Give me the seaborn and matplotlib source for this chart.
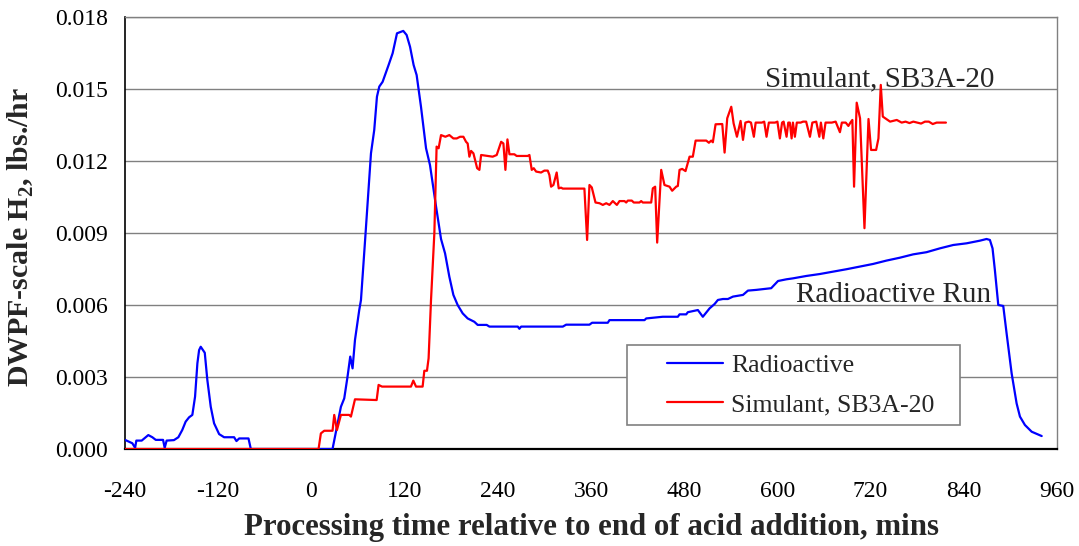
import numpy as np
import pandas as pd
import matplotlib
matplotlib.use("Agg")
import matplotlib.pyplot as plt
from matplotlib.patches import Rectangle
from matplotlib.ticker import FormatStrFormatter
import seaborn as sns

# Radioactive run: time (min) relative to end of acid addition, H2 (lbs/hr)
rad_t = [-240, -230.6, -227, -225.4, -218.5, -210, -204.8, -200.4, -191, -188.9,
         -186.4, -177, -171.3, -166.3, -161.9, -157.5, -153.3, -149.8, -146.8, -144.6,
         -142.5, -137.3, -134, -129.6, -125.3, -118.8, -112.4, -99.5, -96.5, -93,
         -81, -78, 27.2, 31.6, 38, 42.3, 46.5, 50, 53, 56.1,
         61.6, 63.8, 69.3, 76.7, 80.9, 84.4, 87.4, 91.7, 99.4, 104.6,
         110.2, 118.3, 122.6, 127, 131.6, 135.5, 141.1, 147.6, 152.7, 160.5,
         166.9, 172.1, 177.6, 182.8, 188.3, 194.8, 201.2, 209.8, 214.1, 225.7,
         229.2, 265.7, 267.8, 270, 323.7, 328, 358, 361.4, 381.6, 383.8,
         428.9, 431.1, 452.4, 471.8, 474, 482.6, 484.7, 497.6, 504, 512.7,
         519.1, 523.4, 529.9, 536.3, 542.8, 555.7, 562.1, 572.9, 592, 600.8,
         611.5, 620, 637.3, 654.5, 671.7, 688.9, 706, 723.2, 740.4, 757.6,
         774.8, 792, 809.2, 826.4, 843.6, 860.7, 869.3, 873.6, 877, 880,
         884.4, 890.8, 895.1, 901.6, 908, 912.3, 918.7, 927.4, 940.3]
rad_h2 = [0.00038, 0.00024, 0.00005, 0.00035, 0.00035, 0.00058, 0.00049, 0.00038, 0.00038, 0.00005,
          0.00035, 0.00037, 0.00049, 0.00079, 0.00114, 0.00132, 0.00142, 0.00218, 0.00357, 0.00412,
          0.00426, 0.00401, 0.00288, 0.00176, 0.00107, 0.00062, 0.00049, 0.00049, 0.00033, 0.00044,
          0.00044, 0.0, 0.0, 0.00072, 0.00176, 0.00211, 0.00301, 0.00385, 0.00336, 0.00454,
          0.00579, 0.0062, 0.00878, 0.01232, 0.01329, 0.01468, 0.0151, 0.0153, 0.016, 0.01649,
          0.01732, 0.01742, 0.01725, 0.01676, 0.016, 0.01558, 0.01426, 0.01253, 0.01183, 0.0101,
          0.00875, 0.00815, 0.00718, 0.00642, 0.006, 0.00565, 0.00544, 0.0053, 0.00517, 0.00517,
          0.0051, 0.0051, 0.00501, 0.0051, 0.0051, 0.00518, 0.00518, 0.00526, 0.00526, 0.00537,
          0.00537, 0.00544, 0.00551, 0.00551, 0.00561, 0.00561, 0.0057, 0.00579, 0.00551, 0.00586,
          0.00604, 0.00621, 0.00625, 0.00625, 0.00635, 0.00642, 0.0066, 0.00663, 0.0067, 0.007,
          0.00707, 0.00711, 0.00721, 0.00729, 0.00739, 0.00749, 0.0076, 0.00771, 0.00785, 0.00797,
          0.00811, 0.0082, 0.00836, 0.0085, 0.00857, 0.00868, 0.00875, 0.00871, 0.00836, 0.00746,
          0.006, 0.00596, 0.00482, 0.00315, 0.0019, 0.00135, 0.001, 0.00072, 0.00054]

# Simulant run SB3A-20
sim_t = [-240, 9.2, 12.2, 16.5, 27.2, 29.4, 32.9, 38, 48.7, 50.9,
         56.1, 84, 86.5, 90.9, 128.2, 131.2, 134.7, 143.2, 145.4, 148.8,
         150.9, 154, 158.3, 161.2, 163.8, 166.9, 172.5, 177.6, 182.8, 187.1,
         191.4, 195.7, 199.1, 201.2, 203.4, 205.6, 208.6, 213.4, 216.3, 218.5,
         233.4, 238.6, 244.3, 247.2, 249.8, 252.4, 255, 261.3, 264.3, 278.5,
         280.7, 283.7, 286.3, 289.3, 295.7, 300, 304.3, 306.4, 308.6, 311.6,
         315.8, 318.4, 321.5, 323.6, 351.5, 355, 358, 361, 365.8, 371,
         375.2, 379.6, 383.8, 388.1, 393.3, 396.7, 403.1, 405.3, 407.4, 412.5,
         415.1, 422.4, 424.6, 426.7, 437.5, 439.6, 442.6, 445.2, 450.4, 454.6,
         461.1, 464.5, 469.7, 471.8, 474, 477.4, 481.7, 486.9, 491.1, 494.7,
         508.4, 511.8, 514.8, 516.9, 520.4, 529, 532, 535.4, 540.6, 543.6,
         547.9, 552.6, 555.7, 558.8, 563, 566, 569.7, 572, 580, 583,
         586, 589, 597, 600, 603.2, 606, 608, 611.8, 614, 616,
         618.3, 620, 622.5, 625, 630, 633, 637, 641.9, 645, 650,
         654, 656, 659.1, 662, 670, 675, 680.5, 683, 688, 691.4,
         694, 696.5, 698.7, 702.1, 706.4, 712.1, 717.3, 720.6, 727.1, 730.1,
         733.1, 735.7, 745.1, 753.7, 760, 765, 770, 775, 780, 785,
         790, 795, 800, 805, 817]
sim_h2 = [0.0, 0.0, 0.00065, 0.00076, 0.00076, 0.00142, 0.00079, 0.00142, 0.00142, 0.00135,
          0.00207, 0.00204, 0.00267, 0.0026, 0.0026, 0.00285, 0.0026, 0.0026, 0.00326, 0.00326,
          0.00378, 0.0062, 0.00899, 0.0126, 0.01253, 0.01308, 0.01301, 0.01308, 0.01294, 0.01294,
          0.01301, 0.01301, 0.0128, 0.01273, 0.01218, 0.01242, 0.01232, 0.0117, 0.01163, 0.01225,
          0.01218, 0.01225, 0.0128, 0.01273, 0.01163, 0.0129, 0.01228, 0.01228, 0.01221, 0.01221,
          0.01225, 0.01163, 0.0117, 0.01156, 0.01152, 0.0116, 0.0116, 0.01142, 0.01093, 0.011,
          0.01152, 0.01086, 0.01089, 0.01085, 0.01085, 0.00871, 0.011, 0.0109, 0.01027, 0.01024,
          0.01017, 0.01024, 0.01017, 0.01033, 0.01017, 0.01033, 0.01033, 0.01027, 0.01035, 0.01035,
          0.01027, 0.01027, 0.01033, 0.01027, 0.01027, 0.01086, 0.01093, 0.0086, 0.01163, 0.011,
          0.01093, 0.01076, 0.01093, 0.01096, 0.01163, 0.01167, 0.01158, 0.01218, 0.01218, 0.01285,
          0.01285, 0.01276, 0.01285, 0.01278, 0.01353, 0.01354, 0.01235, 0.01378, 0.01426, 0.01357,
          0.01301, 0.01367, 0.01288, 0.0136, 0.01364, 0.0136, 0.01301, 0.0136, 0.0136, 0.01364,
          0.01301, 0.0136, 0.0136, 0.01364, 0.01294, 0.0136, 0.01364, 0.01301, 0.0136, 0.0136,
          0.01294, 0.0136, 0.01301, 0.0136, 0.0136, 0.01364, 0.01364, 0.01301, 0.0136, 0.01364,
          0.01301, 0.0136, 0.01294, 0.0136, 0.0136, 0.01364, 0.0132, 0.0136, 0.0136, 0.01346,
          0.0136, 0.01371, 0.01093, 0.01443, 0.01378, 0.0092, 0.01375, 0.01246, 0.01246, 0.01294,
          0.01517, 0.01385, 0.01364, 0.01371, 0.0136, 0.01364, 0.01358, 0.01364, 0.0136, 0.01356,
          0.01364, 0.01364, 0.01354, 0.0136, 0.0136]

series_names = ["Radioactive", "Simulant, SB3A-20"]
series_colors = ["#0000FF", "#FF0000"]
x_ticks = [-240, -120, 0, 120, 240, 360, 480, 600, 720, 840, 960]
y_ticks = [0.000, 0.003, 0.006, 0.009, 0.012, 0.015, 0.018]

df = pd.concat([
    pd.DataFrame({"t": rad_t, "h2": rad_h2, "run": series_names[0]}),
    pd.DataFrame({"t": sim_t, "h2": sim_h2, "run": series_names[1]}),
], ignore_index=True)

sns.set_style("white")
plt.rcParams["font.family"] = ["Liberation Serif", "DejaVu Serif"]
plt.rcParams["mathtext.fontset"] = "custom"
plt.rcParams["mathtext.rm"] = "Liberation Serif"
plt.rcParams["mathtext.bf"] = "Liberation Serif:bold"
plt.rcParams["axes.unicode_minus"] = False

fig = plt.figure(figsize=(10.79, 5.46), dpi=100)
ax = fig.add_axes([0.11585, 0.17766, 0.86376, 0.79121])

sns.lineplot(data=df, x="t", y="h2", hue="run", hue_order=series_names,
             palette=dict(zip(series_names, series_colors)), estimator=None,
             linewidth=1.6, legend=False, ax=ax, zorder=3)

ax.set_xlim(x_ticks[0], x_ticks[-1])
ax.set_ylim(y_ticks[0], y_ticks[-1])
ax.set_xticks(x_ticks)
ax.set_yticks(y_ticks)
ax.yaxis.set_major_formatter(FormatStrFormatter("%.3f"))

ax.grid(axis="y", color="#808080", linewidth=1.0, zorder=0)
ax.grid(axis="x", visible=False)
ax.set_axisbelow(True)

for side in ("top", "right"):
    ax.spines[side].set_color("#808080")
    ax.spines[side].set_linewidth(1.0)
ax.spines["left"].set_color("black")
ax.spines["left"].set_linewidth(1.2)
ax.spines["bottom"].set_color("black")
ax.spines["bottom"].set_linewidth(1.6)

ax.tick_params(axis="both", which="major", direction="out", length=5, width=1.0,
               color="black", labelsize=17, labelcolor="black")
ax.tick_params(axis="x", pad=18)
ax.tick_params(axis="y", pad=7)

ax.set_xlabel("Processing time relative to end of acid addition, mins",
              fontsize=22.2, fontweight="bold", va="center")
ax.xaxis.set_label_coords(0.501, -0.1806)
ax.set_ylabel(r"DWPF-scale H$_{\mathbf{2}}$, lbs./hr",
              fontsize=21.5, fontweight="bold", va="center")
ax.yaxis.set_label_coords(-0.1116, 0.4907)

# Curve labels
ax.text(731.8, 0.01509, "Simulant, SB3A-20", fontsize=21, ha="center",
        va="baseline", zorder=4)
ax.text(749.2, 0.00614, "Radioactive Run", fontsize=21, ha="center",
        va="baseline", zorder=4)

# Legend box with its entries
box = Rectangle((0.5386, 0.0556), 0.3574, 0.1852, transform=ax.transAxes,
                facecolor="white", edgecolor="#808080", linewidth=1.2, zorder=4.5)
ax.add_patch(box)
handles = ax.get_lines()[:2]
leg = ax.legend(handles, series_names, loc="center", bbox_to_anchor=(0.725, 0.1481),
                frameon=False, fontsize=18.5, handlelength=2.2, handletextpad=0.3,
                labelspacing=0.62, borderaxespad=0)
leg.set_zorder(5)

fig.savefig("out.png", dpi=100)
